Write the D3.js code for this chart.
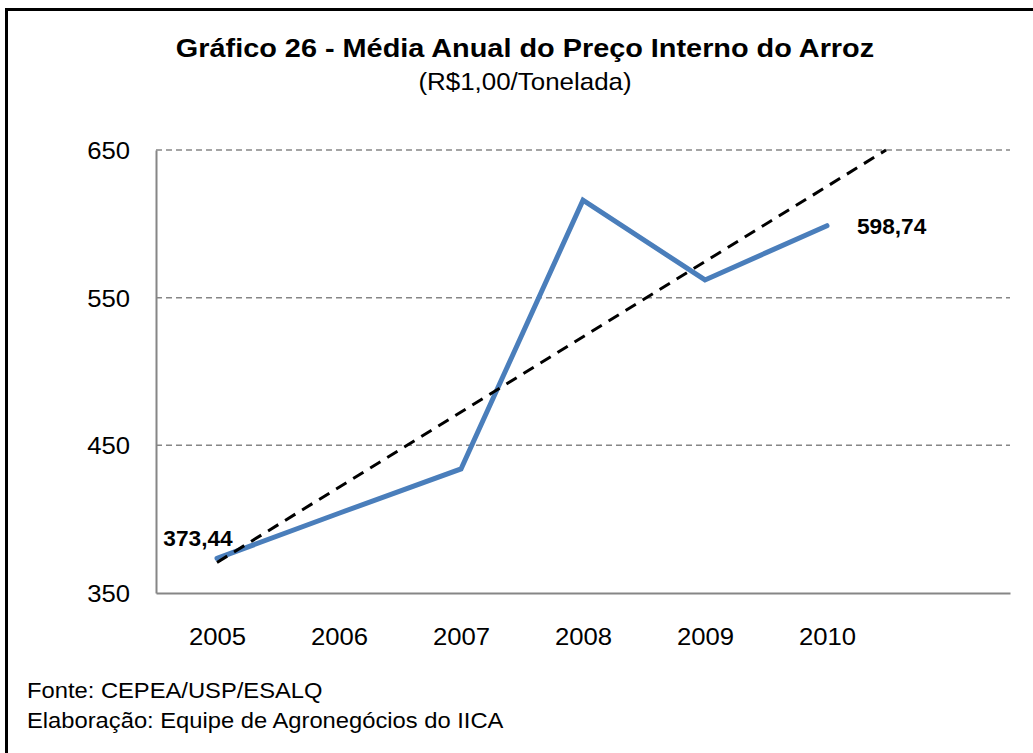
<!DOCTYPE html>
<html>
<head>
<meta charset="utf-8">
<script src="https://cdn.jsdelivr.net/npm/d3@7"></script>
<style>
  html, body { margin: 0; padding: 0; background: #fff; }
  svg { display: block; font-family: "Liberation Sans", Arial, sans-serif; }
</style>
</head>
<body>
<svg id="chart" width="1033" height="753"></svg>
<script>
// ---- data ----
const years = ["2005", "2006", "2007", "2008", "2009", "2010"];
const prices = [373.44, 404, 434, 616, 562, 598.74];
const yTicks = [350, 450, 550, 650];
const titleText = "Gráfico 26 - Média Anual do Preço Interno do Arroz";
const subtitleText = "(R$1,00/Tonelada)";
const footnotes = ["Fonte: CEPEA/USP/ESALQ", "Elaboração: Equipe de Agronegócios do IICA"];

const fmt = v => v.toFixed(2).replace(".", ",");

const svg = d3.select("#chart");
const plot = { left: 156, right: 1010, top: 150, bottom: 593 };

// outer frame (only top/left edges visible in the image)
svg.append("rect")
  .attr("x", 6.5).attr("y", 9.5).attr("width", 1100).attr("height", 900)
  .attr("fill", "none").attr("stroke", "#000").attr("stroke-width", 3);

// scales: 7 category slots (last is empty)
const x = d3.scaleLinear().domain([0.5, years.length + 1.5]).range([plot.left, plot.right]);
const y = d3.scaleLinear().domain([350, 650]).range([plot.bottom, plot.top]);

function stretchedText(sel, px, py, sx) {
  return sel.attr("x", 0).attr("y", 0)
    .attr("transform", `translate(${px},${py}) scale(${sx},1)`);
}

// title
stretchedText(svg.append("text"), 525, 57, 1.11)
  .attr("text-anchor", "middle").attr("font-size", 26).attr("font-weight", "bold")
  .attr("fill", "#000").text(titleText);
stretchedText(svg.append("text"), 525, 90, 1.08)
  .attr("text-anchor", "middle").attr("font-size", 24).attr("fill", "#000").text(subtitleText);

// gridlines
svg.append("g").selectAll("line.grid").data(yTicks.filter(t => t > 350)).join("line")
  .attr("class", "grid")
  .attr("x1", plot.left).attr("x2", plot.right)
  .attr("y1", d => y(d)).attr("y2", d => y(d))
  .attr("stroke", "#868686").attr("stroke-width", 1.5).attr("stroke-dasharray", "6,4");

const AX_SX = 1.07;
// y axis
const yAxis = svg.append("g").attr("transform", `translate(${plot.left},0)`)
  .call(d3.axisLeft(y).tickValues(yTicks).tickSize(0).tickPadding(0));
yAxis.select(".domain").attr("stroke", "#868686").attr("stroke-width", 2);
yAxis.selectAll(".tick text")
  .attr("font-family", "Liberation Sans, Arial, sans-serif")
  .attr("font-size", 24).attr("fill", "#000")
  .attr("x", -26 / AX_SX).attr("dy", "0.36em")
  .attr("transform", `scale(${AX_SX},1)`);

// x axis
const xAxis = svg.append("g").attr("transform", `translate(0,${plot.bottom})`)
  .call(d3.axisBottom(x).tickValues(years.map((d, i) => i + 1))
    .tickFormat((d, i) => years[i]).tickSize(0).tickPadding(0));
xAxis.select(".domain").attr("stroke", "#868686").attr("stroke-width", 2);
xAxis.selectAll(".tick text")
  .attr("font-family", "Liberation Sans, Arial, sans-serif")
  .attr("font-size", 24).attr("fill", "#000")
  .attr("y", 35).attr("dy", "0.71em")
  .attr("transform", `scale(${AX_SX},1)`);

// data line
const line = d3.line().x((d, i) => x(i + 1)).y(d => y(d));
svg.append("path").datum(prices)
  .attr("d", line).attr("fill", "none")
  .attr("stroke", "#4a7ebb").attr("stroke-width", 5)
  .attr("stroke-linejoin", "miter").attr("stroke-linecap", "round");

// linear trendline (least squares), forward forecast clipped at plot top
const n = prices.length;
const xs = prices.map((d, i) => i + 1);
const mx = d3.mean(xs), my = d3.mean(prices);
const slope = d3.sum(xs.map((xi, i) => (xi - mx) * (prices[i] - my))) / d3.sum(xs.map(xi => (xi - mx) ** 2));
const icpt = my - slope * mx;
let xEnd = n + 1;
if (icpt + slope * xEnd > 650) xEnd = (650 - icpt) / slope;
svg.append("line")
  .attr("x1", x(1)).attr("y1", y(icpt + slope * 1))
  .attr("x2", x(xEnd)).attr("y2", y(icpt + slope * xEnd))
  .attr("stroke", "#000").attr("stroke-width", 3)
  .attr("stroke-dasharray", "12,8").attr("stroke-linecap", "butt");

// data labels
const lbl = [
  { i: 0, dx: -19, dy: -12, anchor: "middle" },
  { i: 5, dx: 30, dy: 8, anchor: "start" }
];
lbl.forEach(o => {
  stretchedText(svg.append("text"), x(o.i + 1) + o.dx, y(prices[o.i]) + o.dy, 1.03)
    .attr("text-anchor", o.anchor)
    .attr("font-size", 22).attr("font-weight", "bold").attr("fill", "#000")
    .text(fmt(prices[o.i]));
});

// footnotes
footnotes.forEach((t, k) => {
  stretchedText(svg.append("text"), 27, 698 + k * 30, 1.08)
    .attr("font-size", 22).attr("fill", "#000").text(t);
});
</script>
</body>
</html>
